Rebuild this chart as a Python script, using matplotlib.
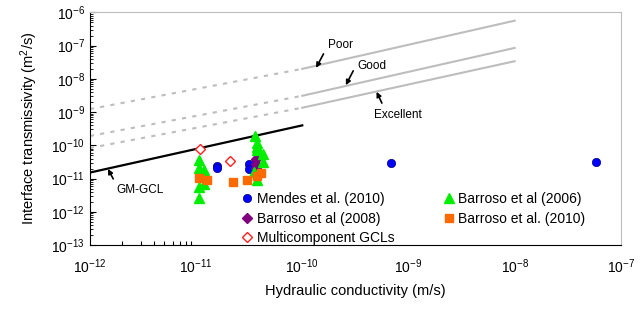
import math
import matplotlib
matplotlib.use("Agg")
import matplotlib.pyplot as plt
from matplotlib.ticker import FixedLocator, NullFormatter

plt.rcParams['font.family'] = ['Liberation Sans', 'DejaVu Sans']
plt.rcParams['mathtext.fontset'] = 'custom'
plt.rcParams['mathtext.rm'] = 'Liberation Sans'
plt.rcParams['mathtext.it'] = 'Liberation Sans:italic'

# data
mendes_k = [1.57e-11, 1.57e-11, 3.14e-11, 3.14e-11, 6.8e-10, 5.8e-8]
mendes_t = [2.4e-11, 2.1e-11, 2.7e-11, 1.95e-11, 2.86e-11, 3.2e-11]

barroso06_k = [1.06e-11, 1.06e-11, 1.06e-11, 1.06e-11, 1.18e-11, 1.18e-11, 1.18e-11,
               3.58e-11, 3.74e-11, 3.74e-11, 3.74e-11, 4.26e-11, 4.26e-11, 3.5e-11, 3.74e-11]
barroso06_t = [3.6e-11, 2.07e-11, 5.6e-12, 2.6e-12, 1.8e-11, 1.28e-11, 6.8e-12,
               1.9e-10, 1.17e-10, 8.9e-11, 7.2e-11, 5.5e-11, 3.14e-11, 1.57e-11, 9.0e-12]

barroso08_k = [3.66e-11, 3.66e-11, 3.66e-11]
barroso08_t = [3.87e-11, 2.73e-11, 2.07e-11]

barroso10_k = [1.06e-11, 1.28e-11, 2.22e-11, 3.0e-11, 3.74e-11, 4.07e-11]
barroso10_t = [1.07e-11, 9.0e-12, 7.85e-12, 9.0e-12, 1.19e-11, 1.43e-11]

multi_k = [1.09e-11, 2.08e-11]
multi_t = [7.7e-11, 3.43e-11]

# criteria lines: values at K = 1e-12, 1e-10, 1e-8
line_k = [1e-12, 1e-10, 1e-8]
poor_t = [10**-8.91, 10**-7.70, 10**-6.25]
good_t = [10**-9.72, 10**-8.51, 10**-7.07]
excellent_t = [10**-10.08, 10**-8.87, 10**-7.47]

gmgcl_k = [1e-12, 1e-10]
gmgcl_t = [10**-10.82, 10**-9.40]

x_decades = [1e-12, 1e-11, 1e-10, 1e-9, 1e-8, 1e-7]
y_decades = [1e-13, 1e-12, 1e-11, 1e-10, 1e-9, 1e-8, 1e-7, 1e-6]


def pow_label(v):
    return r'$\mathregular{10^{%d}}$' % round(math.log10(v))


fig = plt.figure(figsize=(6.42, 3.09), dpi=100)
ax = fig.add_axes([0.140, 0.207, 0.827, 0.753])

grey = '#bdbdbd'
for t in [poor_t, good_t, excellent_t]:
    ax.plot(line_k[:2], t[:2], color=grey, lw=1.5, ls=(0, (2, 3)))
    ax.plot(line_k[1:], t[1:], color=grey, lw=1.5)
ax.plot(gmgcl_k, gmgcl_t, color='black', lw=1.6)

ax.plot(mendes_k, mendes_t, 'o', color='#0000ff', mec='#000080', mew=0.5, ms=6,
        ls='none', label='Mendes et al. (2010)')
ax.plot(barroso08_k, barroso08_t, 'D', color='#800080', mec='#800080', ms=5,
        ls='none', label='Barroso et al (2008)')
ax.plot(multi_k, multi_t, 'D', mfc='white', mec='#ff2020', mew=1, ms=5,
        ls='none', label='Multicomponent GCLs')
ax.plot(barroso06_k, barroso06_t, '^', color='#00ee00', ms=7,
        ls='none', label='Barroso et al (2006)')
ax.plot(barroso10_k, barroso10_t, 's', color='#ff6a00', ms=6,
        ls='none', label='Barroso et al. (2010)')

ax.set_xscale('log')
ax.set_yscale('log')
ax.set_xlim(1e-12, 1e-7)
ax.set_ylim(1e-13, 1e-6)

ax.xaxis.set_major_locator(FixedLocator(x_decades))
ax.set_xticklabels([pow_label(v) for v in x_decades])
ax.xaxis.set_minor_locator(FixedLocator([i * 1e-12 for i in range(2, 11)]))
ax.xaxis.set_minor_formatter(NullFormatter())
ax.yaxis.set_major_locator(FixedLocator(y_decades))
ax.set_yticklabels([pow_label(v) for v in y_decades])

ax.tick_params(axis='x', which='major', length=0, labelsize=10, pad=9)
ax.tick_params(axis='x', which='minor', direction='in', length=3, width=0.8)
ax.tick_params(axis='y', which='major', direction='in', length=4, width=0.8, labelsize=10)
ax.tick_params(axis='y', which='minor', direction='in', length=2, width=0.6)

for s in ['top', 'right']:
    ax.spines[s].set_color(grey)
for s in ['left', 'bottom']:
    ax.spines[s].set_color('black')

ax.set_xlabel('Hydraulic conductivity (m/s)', fontsize=10.5, labelpad=6)
ax.set_ylabel(r'Interface transmissivity (m$^{2}$/s)', fontsize=10.5, labelpad=8)

arrow = dict(arrowstyle='-|>', color='black', lw=1.2, mutation_scale=7,
             shrinkA=0, shrinkB=0)
ax.annotate('', xy=(10**-9.87, 10**-7.67), xytext=(10**-9.80, 10**-7.25), arrowprops=arrow)
ax.text(10**-9.64, 10**-6.99, 'Poor', fontsize=8.5, ha='center', va='center')
ax.annotate('', xy=(10**-9.59, 10**-8.19), xytext=(10**-9.52, 10**-7.76), arrowprops=arrow)
ax.text(10**-9.34, 10**-7.62, 'Good', fontsize=8.5, ha='center', va='center')
ax.annotate('', xy=(10**-9.30, 10**-8.39), xytext=(10**-9.25, 10**-8.73), arrowprops=arrow)
ax.text(10**-9.10, 10**-9.09, 'Excellent', fontsize=8.5, ha='center', va='center')
ax.annotate('', xy=(10**-11.83, 10**-10.71), xytext=(10**-11.78, 10**-11.01), arrowprops=arrow)
ax.text(10**-11.53, 10**-11.33, 'GM-GCL', fontsize=8.5, ha='center', va='center')

ax.legend(ncol=2, frameon=False, fontsize=10, loc='lower left',
          bbox_to_anchor=(0.27, -0.035), handlelength=0.8, handletextpad=0.3,
          columnspacing=3.5, labelspacing=0.38, borderaxespad=0.2)

fig.savefig('out.png', dpi=100)
